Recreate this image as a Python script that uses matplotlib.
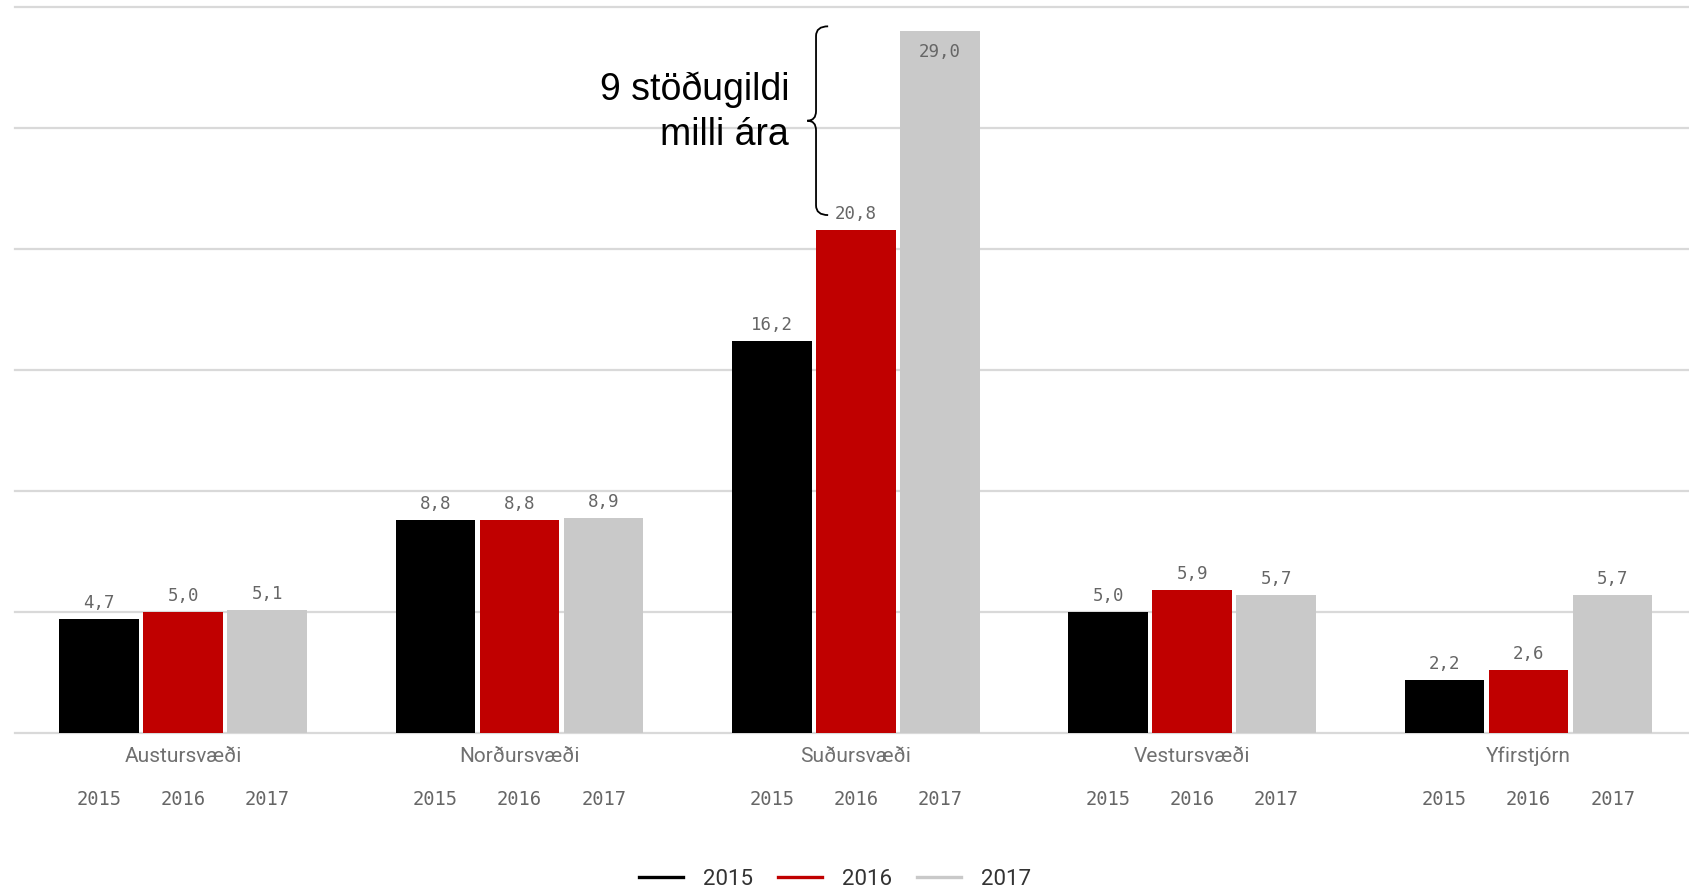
import numpy as np
import matplotlib.pyplot as plt
from matplotlib.lines import Line2D
from matplotlib.path import Path
from matplotlib.patches import PathPatch

# Gögn
svaedi = ['Austursvæði', 'Norðursvæði', 'Suðursvæði', 'Vestursvæði', 'Yfirstjórn']
ar = ['2015', '2016', '2017']
v2015 = [4.7, 8.8, 16.2, 5.0, 2.2]
v2016 = [5.0, 8.8, 20.8, 5.9, 2.6]
v2017 = [5.1, 8.9, 29.0, 5.7, 5.7]
gildi = [v2015, v2016, v2017]
litir = ['#000000', '#c00000', '#c9c9c9']

narrow = ['Roboto', 'DejaVu Sans']
mono = ['DejaVu Sans Mono']

fig = plt.figure(figsize=(16.9, 8.92), dpi=100)
ax = fig.add_axes([0.0089, 0.1783, 0.9911, 0.8139])

x = np.arange(len(svaedi))
bil = 0.25
breidd = 0.237
ymax = 30

# gridlínur
for g in range(0, ymax + 1, 5):
    ax.axhline(g, color='#d9d9d9', lw=1.6, zorder=0, clip_on=False)

for k, (vals, lit) in enumerate(zip(gildi, litir)):
    pos = x + (k - 1) * bil
    ax.bar(pos, vals, width=breidd, color=lit, zorder=2)
    for p, v in zip(pos, vals):
        txt = f'{v:.1f}'.replace('.', ',')
        if v > ymax - 2:
            ax.annotate(txt, (p, v), xytext=(0, -15), textcoords='offset points',
                        ha='center', va='center', fontsize=12.5, color='#666666',
                        family=mono, zorder=3)
        else:
            ax.annotate(txt, (p, v), xytext=(0, 5), textcoords='offset points',
                        ha='center', va='bottom', fontsize=12.5, color='#666666',
                        family=mono, zorder=3)
        # ártal undir hverri súlu
        ax.text(p, -0.091, ar[k], transform=ax.get_xaxis_transform(),
                ha='center', va='center', fontsize=13.5, color='#666666', family=mono)

for i, nafn in enumerate(svaedi):
    ax.text(x[i], -0.032, nafn, transform=ax.get_xaxis_transform(),
            ha='center', va='center', fontsize=15, color='#707070', family=narrow)

ax.set_xlim(-0.5, len(svaedi) - 0.52)
ax.set_ylim(0, ymax)
ax.set_xticks([])
ax.set_yticks([])
for s in ax.spines.values():
    s.set_visible(False)

# slaufusvigi milli 2016 og 2017 á Suðursvæði
rx = x[2] - breidd / 2
topp = v2017[2] + 0.2
botn = v2016[2] + 0.6
mid = (topp + botn) / 2
dx = 0.036
verts = [(rx + dx, topp), (rx, topp), (rx, topp - 0.4),
         (rx, mid + 0.4),
         (rx, mid), (rx - 0.026, mid),
         (rx, mid), (rx, mid - 0.4),
         (rx, botn + 0.4),
         (rx, botn), (rx + dx, botn)]
codes = [Path.MOVETO, Path.CURVE3, Path.CURVE3,
         Path.LINETO,
         Path.CURVE3, Path.CURVE3,
         Path.CURVE3, Path.CURVE3,
         Path.LINETO,
         Path.CURVE3, Path.CURVE3]
ax.add_patch(PathPatch(Path(verts, codes), fill=False, lw=1.3, color='black',
                       clip_on=False, zorder=4))
ax.text(rx - 0.08, mid + 0.35, '9 stöðugildi\nmilli ára', ha='right', va='center',
        fontsize=27, family='Liberation Sans', linespacing=1.3, color='black')

handles = [Line2D([], [], color=c, lw=2.4) for c in litir]
fig.legend(handles, ar, loc='center', bbox_to_anchor=(0.494, 0.014), ncol=3,
           frameon=False, prop={'family': narrow, 'size': 16},
           handlelength=2.0, handletextpad=0.9, columnspacing=1.1,
           labelcolor='#333333')

fig.savefig('out.png', dpi=100)
